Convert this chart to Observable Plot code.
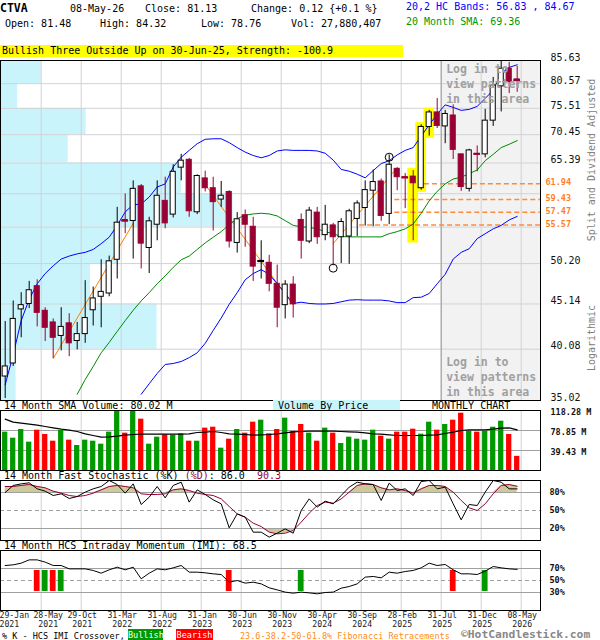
<!DOCTYPE html>
<html><head><meta charset="utf-8">
<script src="https://cdn.jsdelivr.net/npm/d3@7"></script>
<script src="https://cdn.jsdelivr.net/npm/@observablehq/plot@0.6"></script>
<style>
body{margin:0;background:#fff;}
#root{position:relative;width:600px;height:640px;overflow:hidden;font-family:"DejaVu Sans Mono",monospace;font-size:10px;color:#000;background:#fff;}
.t{position:absolute;white-space:pre;line-height:12px;}
.p{position:absolute;left:0;}
</style></head><body><div id="root"></div>
<script>
// ---------- monthly OHLC, Jan 2021 .. May 2026 ----------
const open  = [37.3,38.6,44.5,45.14,47.3,44.34,43.0,41.5,42.9,40.95, 41.7,44.4,46.0,46.4,50.7,56.3,56.15,61.5,52.3,55.6, 59.2,57.1,64.6,65.95,57.45,62.8,61.2,59.4,60.6,53.0, 57.0,55.3,50.5,50.3,47.6,45.0,47.5,56.3,53.2,57.4, 54.1,55.5,53.8,53.9,56.45,58.1,60.8,62.3,57.2,64.4, 63.0,63.1,61.2,71.9,74.7,72.0,74.1,66.9,61.1,67.0, 66.9,73.1,80.0,83.8,81.48];
const high  = [43.1,45.5,46.5,47.9,48.1,44.7,43.4,44.7,44.0,43.0, 48.0,47.2,50.7,51.2,58.2,60.3,62.4,61.8,56.7,62.4, 63.0,65.1,66.9,66.2,63.4,64.0,63.0,62.3,60.8,57.4, 57.8,56.7,53.3,51.3,50.0,48.0,48.5,57.2,58.2,58.2, 58.5,55.8,56.5,57.9,59.2,62.4,64.2,62.7,66.8,64.6, 63.6,64.1,72.3,75.1,77.5,75.1,76.2,66.9,67.8,68.4, 75.3,81.9,85.6,85.2,84.32];
const low   = [35.2,38.3,41.3,44.6,42.5,40.9,39.1,39.9,39.3,40.0, 40.7,42.6,42.4,46.0,48.2,54.3,50.8,49.5,48.9,53.3, 55.0,56.6,62.4,56.7,57.1,60.6,54.7,58.2,52.3,51.6, 52.4,47.9,48.2,46.6,42.4,43.4,43.5,50.8,52.9,52.8, 53.3,49.9,50.2,50.1,53.9,55.4,55.3,56.1,55.6,60.8, 58.0,53.3,60.9,70.2,71.6,68.8,66.0,60.7,60.6,63.9, 66.3,72.0,74.8,78.5,78.76];
const close = [38.3,43.4,45.0,46.8,44.1,42.4,41.3,42.5,40.7,41.7, 43.5,45.8,46.6,50.5,55.9,56.1,61.1,52.9,56.1,60.0, 55.8,63.9,65.8,57.6,63.2,61.2,59.0,60.0,53.2,56.4, 55.6,49.8,50.55,47.6,44.7,47.5,45.1,53.3,57.7,53.8, 55.6,53.8,56.0,57.6,58.8,60.9,62.2,56.9,65.1,63.0, 62.9,62.0,71.9,74.7,72.1,74.4,67.7,61.4,67.6,66.95, 73.1,80.2,83.8,80.9,81.13];

// ---------- overlays ----------
const upperBand = [36.5,39.5,43.2,45.7,47.6,48.9,49.9,50.8,51.2,51.5, 51.7,52.1,52.9,53.8,55.5,57.5,58.6,58.7,59.8,61.4, 61.9,64.7,66.4,67.6,68.8,69.6,69.7,69.7,69.0,68.1, 67.3,66.7,66.3,66.7,67.5,67.7,67.6,67.6,67.6,67.5, 67.1,65.9,64.3,64.0,63.5,62.9,64.1,65.3,65.8,66.8, 67.6,68.1,70.2,72.3,74.4,76.2,75.7,75.1,75.3,75.9, 77.5,79.2,82.8,84.1,84.67];
const lowerBand = [null,null,null,null,null,null,null,null,null,null, null,null,null,null,null,null,null,35.6,36.6,37.6, 38.5,38.6,38.8,39.2,39.7,40.7,42.1,43.5,45.1,46.5, 48.1,48.9,49.4,48.8,47.6,46.4,45.2,45.35,45.2,45.14, 45.14,45.2,45.4,45.6,45.65,45.6,45.6,45.6,45.5,45.3, 45.3,45.9,45.95,46.4,47.6,48.8,50.8,51.7,52.2,53.6, 54.3,55.0,55.5,56.3,56.83];
const sma20 = [null,null,null,null,null,null,null,null,null,35.6, 37.0,38.3,39.7,40.8,42.0,43.2,44.4,45.5,46.5,47.6, 48.6,49.7,50.7,51.2,52.1,53.0,53.8,54.6,55.6,56.5, 57.0,57.2,57.3,57.2,56.9,56.2,55.5,55.3,55.2,55.0, 54.6,54.3,53.9,53.85,53.85,53.85,53.85,53.85,54.3,54.6, 55.0,55.7,57.3,59.2,60.7,61.9,62.7,63.0,63.6,64.2, 65.8,66.9,68.1,68.7,69.36];

// ---------- volume (millions) ----------
const volume = [75.6,63.7,80.8,55.9,79.5,71.0,57.8,78.9,59.8,49.3, 59.8,57.8,51.9,75.6,125,73.6,125,101.2,51.9,65.7, 70.3,69.7,72.3,57.8,57.8,83.5,85.4,44.0,61.8,80.8, 73.6,95.3,99.2,72.3,80.8,103.2,76.9,90.7,73.6,57.8, 83.5,73.6,53.2,65.7,61.8,59.8,79.5,67.7,61.8,75.6, 75.6,81.5,71.6,95.3,79.5,90.7,99.2,113.0,77.5,75.6, 77.5,85.4,97.2,71.0,27.88];
const volSma = [101.2,95.3,93.3,91.3,89.4,86.7,84.1,81.5,79.5,76.9, 72.3,69.0,65.7,66.4,67.7,69.7,71.0,71.6,71.6,71.6, 71.6,71.6,71.6,72.3,74.9,75.6,76.9,74.9,72.3,71.6, 71.0,69.7,70.3,71.0,72.3,74.2,76.2,76.9,77.5,77.5, 77.5,77.5,76.9,76.2,75.6,74.2,72.3,71.6,70.3,69.0, 69.0,69.0,69.0,69.7,70.3,72.9,75.6,78.9,80.2,80.2, 80.2,81.5,83.5,84.1,80.02];
const volTicks = [39.43, 78.85, 118.28];

// ---------- fast stochastic ----------
const stochK = [80,91.7,94.4,96.1,86.1,82.2,75,77.8,70,73.3, 80.6,86.1,90,100,93.3,78.9,94.4,60,72.2,90, 71.1,91.7,97.2,63.9,84.4,76.7,67.8,61.1,21.1,44.4, 38.9,13.9,13.9,5.6,12.2,19.4,12.2,50,69.4,55.6, 65.6,61.1,75,88.9,97.2,94.4,93.3,66.7,95.6,83.3, 86.1,75,98.3,100,86.1,88.9,61.1,34.4,60,58.3, 80.6,100,97.2,86.1,86.0];
const stochD = [90,90,91.7,93.3,90,87.8,82.2,78.9,75,73.3, 75,78.9,84.4,90,91.7,90,87.8,77.8,76.7,76.7, 77.8,84.4,86.1,83.3,78.9,76.7,75,69.4,56.7,44.4, 38.9,28.9,23.3,13.9,11.1,12.2,16.7,30.6,45.6,58.3, 63.9,62.2,69.4,80.6,91.7,94.4,93.3,87.8,84.4,86.1, 83.3,78.9,86.1,91.7,91.7,90,80.6,66.7,54.4,50, 61.1,77.8,91.7,93.3,90.3];

// ---------- HCS intraday momentum ----------
const imi = [75,76.1,78.9,84.4,84.4,80.6,75,75,69.4,69.4, 69.4,66.7,62.2,67.8,72.2,67.8,72.2,52.8,62.2,69.4, 67.8,71.1,75,63.9,63.9,62.8,61.1,60,47.2,50, 45.6,47.2,44.4,37.8,34.4,30.6,28.9,30.6,29.4,27.8, 30,30.6,37.2,40,44.4,55.6,56.7,54.4,63.9,62.2, 65,66.7,71.1,78.9,75,76.7,67.8,61.1,61.1,60, 65.6,73.3,71.1,69.4,68.5];
const crossIdx  = [4, 5, 6, 7, 28, 37, 56, 60];
const crossType = ["Bearish","Bullish","Bearish","Bullish","Bearish","Bullish","Bearish","Bullish"];

// ---------- price axis, fib, patterns, volume-by-price ----------
const priceTicks = [35.02, 40.08, 45.14, 50.20, 55.26, 60.32, 65.39, 70.45, 75.51, 80.57, 85.63];
const priceTickShown = [true, true, true, true, false, false, true, true, true, true, true];
const fibLevels = [61.94, 59.43, 57.47, 55.57];
const fibStartIdx = [52.4, 47.7, 47.7, 44.3];
const trendFrom = [[6, 39.1], [25, 61.8], [41, 52.9]];
const trendTo   = [[16, 55.8], [36, 45.0], [49, 64.6]];
const patternIdx = [51, 52, 53];
const markIdx = [41, 48];
const markVal = [49.6, 66.4];
const vbpShare = [6.7, 67.3, 38.7, 50.7, 100, 77.8, 29.1, 36.8, 7.4, 17.5];
const loginStart = 54.5;

// ---------- x tick labels ----------
const xTickIdx = [0, 4, 9, 14, 19, 24, 29, 34, 39, 44, 49, 54, 59, 64];
const xTickLabels = ["29-Jan\n2021","28-May\n2021","29-Oct\n2021","31-Mar\n2022","31-Aug\n2022","31-Jan\n2023","30-Jun\n2023","30-Nov\n2023","30-Apr\n2024","30-Sep\n2024","28-Feb\n2025","31-Jul\n2025","31-Dec\n2025","08-May\n2026"];

// =================================================================
const N = close.length;
const idx = d3.range(N);
const X_DOMAIN = [-0.5875, 66.9125];
const gridX = xTickIdx.slice(1).map(i => i + 0.5);
const DOWN = "#990033", GREEN = "#009900", RED = "#ff0000", ORANGE = "#ff7f27";
const isUp = i => close[i] >= open[i];
const FONT = "DejaVu Sans Mono";
const common = {
  width: 600, marginLeft: 0, marginRight: 60, marginTop: 10, marginBottom: 10,
  style: {background: "transparent", overflow: "visible", fontFamily: FONT},
  color: {type: "identity"}
};
const PDOM = [priceTicks[0], priceTicks[priceTicks.length - 1]];

const vbpPlot = Plot.plot({
  ...common, height: 360,
  x: {domain: [0, 232.1], axis: null},
  y: {type: "log", domain: PDOM, axis: null},
  marks: [
    Plot.rect(d3.range(vbpShare.length), {x1: 0, x2: i => vbpShare[i], y1: i => priceTicks[i], y2: i => priceTicks[i + 1], fill: "#c9f4fb"})
  ]
});

const mainPlot = Plot.plot({
  ...common, height: 360,
  x: {domain: X_DOMAIN, axis: null},
  y: {type: "log", domain: PDOM, axis: null},
  marks: [
    Plot.rect([0], {x1: loginStart, x2: X_DOMAIN[1], y1: PDOM[0], y2: PDOM[1], fill: "#f2f2f2"}),
    Plot.ruleX(gridX, {stroke: "#d2d2d2"}),
    Plot.ruleY(priceTicks, {stroke: "#d2d2d2"}),
    Plot.ruleX([loginStart], {stroke: "#9a9a9a"}),
    Plot.rect(patternIdx, {x1: i => i - 0.67, x2: i => i + 0.67, y1: i => low[i] / 1.006, y2: i => high[i] * 1.006, fill: "#ffff00"}),
    Plot.ruleY(fibLevels, {y: d => d, x1: (d, i) => fibStartIdx[i], x2: X_DOMAIN[1], stroke: "#ff8a3d", strokeWidth: 1.5, strokeDasharray: "5,3"}),
    Plot.link(d3.range(trendFrom.length), {x1: i => trendFrom[i][0], y1: i => trendFrom[i][1], x2: i => trendTo[i][0], y2: i => trendTo[i][1], stroke: "#ff8000", strokeWidth: 1}),
    Plot.line(idx, {x: i => i, y: i => upperBand[i], stroke: "#0000ff", strokeWidth: 1}),
    Plot.line(idx, {x: i => i, y: i => lowerBand[i], stroke: "#0000ff", strokeWidth: 1}),
    Plot.line(idx, {x: i => i, y: i => sma20[i], stroke: "#008800", strokeWidth: 1}),
    Plot.ruleX(idx, {x: i => i, y1: i => low[i], y2: i => high[i], stroke: i => isUp(i) ? "#000" : DOWN}),
    Plot.rect(idx, {x1: i => i - 0.32, x2: i => i + 0.32, y1: i => open[i], y2: i => close[i], fill: i => isUp(i) ? "#fff" : DOWN, stroke: i => isUp(i) ? "#000" : DOWN, strokeWidth: 1}),
    Plot.ruleY(idx.filter(i => Math.abs(close[i] - open[i]) / open[i] < 0.008), {y: i => (open[i] + close[i]) / 2, x1: i => i - 0.42, x2: i => i + 0.42, stroke: i => isUp(i) ? "#000" : DOWN, strokeWidth: 2}),
    Plot.dot(d3.range(markIdx.length), {x: k => markIdx[k], y: k => markVal[k], r: 4, stroke: "#000", fill: "none", strokeWidth: 1}),
    Plot.frame({stroke: "#000"}),
    Plot.text(priceTicks.filter((d, i) => priceTickShown[i]), {y: d => d, text: d => d.toFixed(2), frameAnchor: "right", textAnchor: "start", dx: 10, dy: -3, fontSize: 10, fill: "#111"}),
    Plot.text(fibLevels, {y: d => d, text: d => d.toFixed(2), frameAnchor: "right", textAnchor: "start", dx: 5, dy: -1, fontSize: 8.5, fontWeight: "bold", fill: ORANGE}),
    Plot.text(["Log in to\nview patterns\nin this area"], {x: loginStart, frameAnchor: "top", textAnchor: "start", lineAnchor: "top", dx: 5, dy: 2, fontSize: 11.5, fontWeight: "bold", fill: "#a0a0a0", lineHeight: 1.3}),
    Plot.text(["Log in to\nview patterns\nin this area"], {x: loginStart, frameAnchor: "bottom", textAnchor: "start", lineAnchor: "bottom", dx: 5, dy: -5, fontSize: 11.5, fontWeight: "bold", fill: "#a0a0a0", lineHeight: 1.3})
  ]
});

const volPlot = Plot.plot({
  ...common, height: 80,
  x: {domain: X_DOMAIN, axis: null},
  y: {domain: [0, volTicks[2]], axis: null},
  marks: [
    Plot.ruleX(gridX, {stroke: "#d2d2d2"}),
    Plot.ruleY(volTicks.slice(0, 2), {stroke: "#a0a0a0"}),
    Plot.rect(idx, {x1: i => i - 0.33, x2: i => i + 0.33, y1: 0, y2: i => volume[i], fill: i => isUp(i) ? GREEN : RED, clip: true}),
    Plot.line(idx, {x: i => i, y: i => volSma[i], stroke: "#000", strokeWidth: 1.2}),
    Plot.frame({stroke: "#000"}),
    Plot.text(volTicks, {y: d => d, text: d => d.toFixed(2) + " M", frameAnchor: "right", textAnchor: "start", dx: 10, dy: 2, fontSize: 8.5, fontWeight: "bold", fill: "#111"})
  ]
});

const stochPlot = Plot.plot({
  ...common, height: 80,
  x: {domain: X_DOMAIN, axis: null},
  y: {domain: [0, 100], axis: null},
  marks: [
    Plot.ruleX(gridX, {stroke: "#d2d2d2"}),
    Plot.areaY(idx, {x: i => i, y1: 80, y2: i => Math.max(stochD[i], 80), fill: "#cdc99b"}),
    Plot.areaY(idx, {x: i => i, y1: i => Math.min(stochD[i], 20), y2: 20, fill: "#cdc99b"}),
    Plot.ruleY([20, 80], {stroke: "#a0a0a0", strokeWidth: 1.2}),
    Plot.ruleY([50], {stroke: "#a0a0a0", strokeWidth: 1.2, strokeDasharray: "4,3"}),
    Plot.line(idx, {x: i => i, y: i => stochD[i], stroke: DOWN, strokeWidth: 1, clip: true}),
    Plot.line(idx, {x: i => i, y: i => stochK[i], stroke: "#000", strokeWidth: 1, clip: true}),
    Plot.frame({stroke: "#000"}),
    Plot.text([20, 50, 80], {y: d => d, text: d => d + "%", frameAnchor: "right", textAnchor: "start", dx: 9, fontSize: 8.5, fontWeight: "bold", fill: "#111"})
  ]
});

const imiPlot = Plot.plot({
  ...common, height: 100, marginBottom: 30,
  x: {domain: X_DOMAIN, axis: null},
  y: {domain: [0, 100], axis: null},
  marks: [
    Plot.ruleX(gridX, {stroke: "#d2d2d2"}),
    Plot.ruleY([30, 70], {stroke: "#a0a0a0", strokeWidth: 1.2}),
    Plot.ruleY([50], {stroke: "#a0a0a0", strokeWidth: 1.2, strokeDasharray: "4,3"}),
    Plot.rect(d3.range(crossIdx.length), {x1: k => crossIdx[k] - 0.36, x2: k => crossIdx[k] + 0.36, y1: 31.7, y2: 66.7, fill: k => crossType[k] === "Bullish" ? GREEN : RED}),
    Plot.line(idx, {x: i => i, y: i => imi[i], stroke: "#000", strokeWidth: 1}),
    Plot.frame({stroke: "#000"}),
    Plot.text([30, 50, 70], {y: d => d, text: d => d + "%", frameAnchor: "right", textAnchor: "start", dx: 9, fontSize: 8.5, fontWeight: "bold", fill: "#111"}),
    Plot.text([xTickLabels[0]], {frameAnchor: "bottom-left", textAnchor: "start", lineAnchor: "top", dx: -1, dy: 1, fontSize: 8.2, lineHeight: 1.12, fill: "#222"}),
    Plot.text([1], {x: k => xTickIdx[k] + 0.5, text: k => xTickLabels[k], frameAnchor: "bottom", lineAnchor: "top", dx: 7, dy: 1, fontSize: 8.2, lineHeight: 1.12, fill: "#222"}),
    Plot.text(d3.range(2, xTickIdx.length), {x: k => xTickIdx[k] + 0.5, text: k => xTickLabels[k], frameAnchor: "bottom", lineAnchor: "top", dx: 1, dy: 1, fontSize: 8.2, lineHeight: 1.12, fill: "#222"})
  ]
});

const root = document.getElementById("root");
function place(svg, top) { svg.classList.add("p"); svg.style.top = top + "px"; svg.style.position = "absolute"; root.appendChild(svg); }
place(vbpPlot, 50);
place(mainPlot, 50);
place(volPlot, 400);
place(stochPlot, 470);
place(imiPlot, 540);

function txt(s, left, top, css = "") {
  const d = document.createElement("div");
  d.className = "t"; d.textContent = s;
  d.style.left = left + "px"; d.style.top = top + "px";
  d.style.cssText += css;
  root.appendChild(d); return d;
}
// header
txt("CTVA", 0, 2, "font-weight:bold;font-size:11.5px;");
txt("08-May-26", 70, 3);
txt("Close: " + close[N - 1].toFixed(2), 145, 3);
txt("Change: 0.12 {+0.1 %}", 251, 3);
txt("Open: " + open[N - 1].toFixed(2), 5, 18);
txt("High: " + high[N - 1].toFixed(2), 100, 18);
txt("Low: " + low[N - 1].toFixed(2), 201, 18);
txt("Vol: 27,880,407", 291, 18);
txt("20,2 HC Bands: " + lowerBand[N - 1].toFixed(2) + " , " + upperBand[N - 1].toFixed(2), 406, 1, "color:#0000ff;");
txt("20 Month SMA: " + sma20[N - 1].toFixed(2), 406, 16, "color:#009900;");
txt("Bullish Three Outside Up on 30-Jun-25, Strength: -100.9", 0, 45, "background:#ffff00;width:401px;padding-left:2px;height:12px;");
// side labels
txt("Split and Dividend Adjusted", 592, 160, "color:#808080;transform:translate(-50%,-50%) rotate(-90deg);");
txt("Logarithmic", 592, 338, "color:#808080;transform:translate(-50%,-50%) rotate(-90deg);");
// panel titles
txt("14 Month SMA Volume: " + volSma[N - 1].toFixed(2) + " M", 4, 400);
txt("Volume By Price", 273, 400, "background:#c9f4fb;width:122px;padding-left:5px;height:10px;line-height:11px;");
txt("MONTHLY CHART", 432, 400);
const st = txt("", 4, 470);
st.innerHTML = '14 Month Fast Stochastic (%K) <span style="color:' + DOWN + '">(%D)</span>: ' + stochK[N - 1].toFixed(1) + '  <span style="color:' + DOWN + '">' + stochD[N - 1].toFixed(1) + '</span>';
txt("14 Month HCS Intraday Momentum (IMI): " + imi[N - 1].toFixed(1), 4, 540);
// footer
txt("% K - HCS IMI Crossover,", 2, 630, "font-size:8.5px;");
txt("Bullish", 128, 629, "font-size:8.5px;background:" + GREEN + ";color:#fff;width:35px;text-align:center;height:12px;");
txt("Bearish", 176, 629, "font-size:8.5px;background:" + RED + ";color:#fff;width:37px;text-align:center;height:12px;");
txt("23.6-38.2-50-61.8% Fibonacci Retracements", 240, 630, "font-size:8.5px;color:#ff8c1a;");
txt("\u00a9HotCandlestick.com", 461, 628, "font-size:11.3px;font-weight:bold;color:#888;line-height:14px;");
</script></body></html>
